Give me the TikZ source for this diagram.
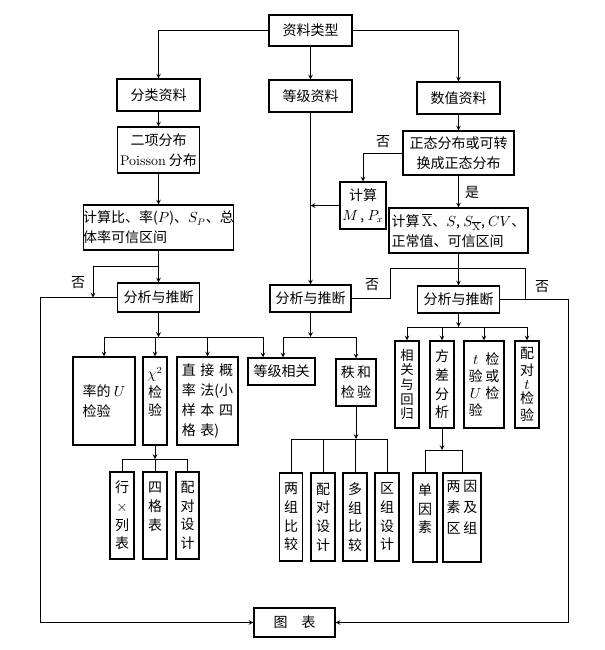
\documentclass[tikz,border=0pt]{standalone}
\usepackage{amsmath}
\usepackage{fontspec}
\usepackage{tikz}
\usetikzlibrary{arrows,positioning}
\newfontfamily\cjk{Noto Sans CJK SC}
\newcommand{\zc}[1]{\makebox[12.5pt]{#1}}
\tikzset{
zl_box/.style = {draw=black, line width=0.8pt, inner sep=0pt, align=center,
font=\cjk\fontsize{10.5}{15}\selectfont},% 横排方框
zl_v/.style = {zl_box, font=\cjk\fontsize{10.5}{14}\selectfont},% 竖排窄框
zl_vs/.style = {zl_box, font=\cjk\fontsize{10}{11}\selectfont},% 五字竖排
zl_sz/.style 2 args = {minimum width=#1*0.75pt, minimum height=#2*0.75pt},% 框的大小
zl_lab/.style = {font=\cjk\fontsize{10.5}{12}\selectfont, inner sep=1pt},% 是、否
zl_line/.style = {line width=0.6pt}
}

\begin{document}
\begin{tikzpicture}[x=0.75pt, y=-0.75pt, >=stealth, zl_line]
\useasboundingbox (0,0) rectangle (605,650);
% 资料类型
\node [zl_box, zl_sz={83}{31}] (type) at (310.5,30.5) {资料类型};
\node [zl_box, zl_sz={83}{32}] (cat) at (158.5,95) {分类资料};
\node [zl_box, zl_sz={83}{32}] (grade) at (310.5,96) {等级资料};
\node [zl_box, zl_sz={83}{32}] (num) at (458.5,98) {数值资料};
% 分类资料
\node [zl_box, zl_sz={82}{46}] (binom) at (158.5,150) {二项分布\\{\rmfamily Poisson} 分布};
\node [zl_box, align=left, zl_sz={144}{45}] (rate) at (158.5,227.5) {计算比、率($P$)、$S_P$、总\\体率可信区间};
\node [zl_box, zl_sz={82}{29}] (ana1) at (158.5,297.5) {分析与推断};
% 数值资料
\node [zl_box, zl_sz={111}{44}] (normal) at (458.5,153) {正态分布或可转\\换成正态分布};
\node [zl_box, zl_sz={46}{47}] (med) at (363,205.5) {计算\\$M$\,, $P_x$};
\node [zl_box, align=left, zl_sz={139}{45}] (mean) at (458.5,230.5) {计算\,$\overline{\mathrm{X}}$、$S$, $S_{\overline{\mathrm{X}}}$, $CV$、\\正常值、可信区间};
\node [zl_box, zl_sz={81}{27}] (ana2) at (310.5,298.5) {分析与推断};
\node [zl_box, zl_sz={82}{27}] (ana3) at (458.5,299.5) {分析与推断};
% 检验方法
\node [zl_box, align=left, zl_sz={62}{88}] (uTest) at (104,401) {率的 $U$\\检验};
\node [zl_v, zl_sz={24}{88}] (chi) at (155,401) {$\chi^2$\\检\\验\\~};
\node [zl_box, align=left, zl_sz={61}{88}] (exact) at (207.5,401) {直\,\,接\,\,概\\率\,\,法(小\\样\,\,本\,\,四\\格\,\,表)};
\node [zl_box, zl_sz={67}{27}] (rankcor) at (281.5,371.5) {等级相关};
\node [zl_box, zl_sz={40}{47}] (ranksum) at (356,382.5) {秩\,和\\检\,验};
\node [zl_vs, zl_sz={24}{87}] (corr) at (407,384.5) {相\\关\\与\\回\\归};
\node [zl_v, zl_sz={24}{87}] (anova) at (442,384.5) {方\\差\\分\\析};
\node [zl_box, font=\cjk\fontsize{10.5}{12.75}\selectfont, zl_sz={40}{87}] (tTest) at (484,384.5) {\zc{$t$}\zc{检}\\\zc{验}\zc{或}\\\zc{$U$}\zc{检}\\\zc{验}\zc{}};
\node [zl_box, font=\cjk\fontsize{10.5}{12.5}\selectfont, zl_sz={24}{87}] (pairT) at (527,384.5) {配\\对\\[-2pt]$t$\\[-2pt]检\\验};
% 最下一层
\node [zl_v, zl_sz={24}{87}] (rxc) at (122,515.5) {行\\$\times$\\列\\表};
\node [zl_v, zl_sz={24}{87}] (four) at (155,515.5) {四\\格\\表\\~};
\node [zl_v, zl_sz={23}{87}] (pair1) at (187.5,515.5) {配\\对\\设\\计};
\node [zl_v, zl_sz={23}{88}] (two) at (291,517) {两\\组\\比\\较};
\node [zl_v, zl_sz={24}{88}] (pair2) at (323,517) {配\\对\\设\\计};
\node [zl_v, zl_sz={24}{88}] (multi) at (355,517) {多\\组\\比\\较};
\node [zl_v, zl_sz={24}{88}] (block) at (387,517) {区\\组\\设\\计};
\node [zl_v, zl_sz={24}{89}] (oneway) at (425,517.5) {单\\因\\素\\~};
\node [zl_box, font=\cjk\fontsize{10.5}{16}\selectfont, zl_sz={38}{89}] (twoway) at (462,517.5) {\zc{两}\zc{因}\\\zc{素}\zc{及}\\\zc{区}\zc{组}\\~};
\node [zl_box, zl_sz={81}{29}] (chart) at (294.5,622.5) {图\quad 表};
% 是、否
\node [zl_lab] (no1) at (78,283) {否};
\node [zl_lab] (no2) at (383,142) {否};
\node [zl_lab] (yes) at (472,192) {是};
\node [zl_lab] (no3) at (372,285) {否};
\node [zl_lab] (no4) at (542,287) {否};
% 上部连线
\draw [->] (type.west) -| (cat.north);
\draw [->] (type.south) -- (grade.north);
\draw [->] (type.east) -| (num.north);
\draw [->] (cat) -- (binom);
\draw [->] (binom) -- (rate);
\draw [->] (rate) -- (ana1);
\coordinate (j1) at (158.5,266);
\coordinate (j1l) at (93,297.5);
\draw [->] (j1) -| (j1l);
\coordinate (lft) at (40,297.5);
\draw [->] (ana1.west) -- (lft) |- (chart.west);
\draw [->] (num) -- (normal);
\draw [->] (normal.west) -| (med.north);
\draw [->] (med.west) -- (med.west -| grade.south);
\draw [->] (grade) -- (ana2);
\draw [->] (normal) -- (mean);
\draw [->] (mean) -- (ana3);
\coordinate (j2l) at (390,268);
\coordinate (j2r) at (525,268);
\draw (j2l) -- (j2r);
\draw (j2l) |- (ana2.east);
\coordinate (rgt) at (568,299.5);
\draw [->] (ana3.east) -- (rgt) |- (chart.east);
\draw (j2r) -- (j2r |- rgt);
% 分析与推断以下
\coordinate (b1l) at (104,337);
\coordinate (b1r) at (263,337);
\draw (b1l) -- (b1r);
\draw [->] (ana1) -- (ana1.south |- b1l);
\foreach \nd in {uTest,chi,exact} \draw [->] (\nd.north |- b1l) -- (\nd.north);
\draw [->] (b1r) -- (b1r |- rankcor.north);
\coordinate (b2l) at (283,337);
\draw (b2l) -- (b2l -| ranksum.north);
\draw [->] (ana2) -- (ana2.south |- b2l);
\draw [->] (b2l) -- (b2l |- rankcor.north);
\draw [->] (b2l -| ranksum.north) -- (ranksum);
\coordinate (b3) at (458.5,327);
\draw [->] (ana3) -- (b3);
\draw (b3 -| corr.north) -- (b3 -| pairT.north);
\foreach \nd in {corr,anova,tTest,pairT} \draw [->] (b3 -| \nd.north) -- (\nd.north);
% 最下一层连线
\coordinate (b4) at (155,459);
\draw [->] (chi) -- (b4);
\draw (b4 -| rxc.north) -- (b4 -| pair1.north);
\foreach \nd in {rxc,four,pair1} \draw (b4 -| \nd.north) -- (\nd.north);
\coordinate (b5) at (356,439);
\draw [->] (ranksum) -- (b5);
\draw (b5 -| two.north) -- (b5 -| block.north);
\foreach \nd in {two,pair2,multi,block} \draw (b5 -| \nd.north) -- (\nd.north);
\coordinate (b6) at (442,450);
\draw [->] (anova) -- (b6);
\draw (b6 -| oneway.north) -- (b6 -| twoway.north);
\foreach \nd in {oneway,twoway} \draw (b6 -| \nd.north) -- (\nd.north);
\end{tikzpicture}
\end{document}
